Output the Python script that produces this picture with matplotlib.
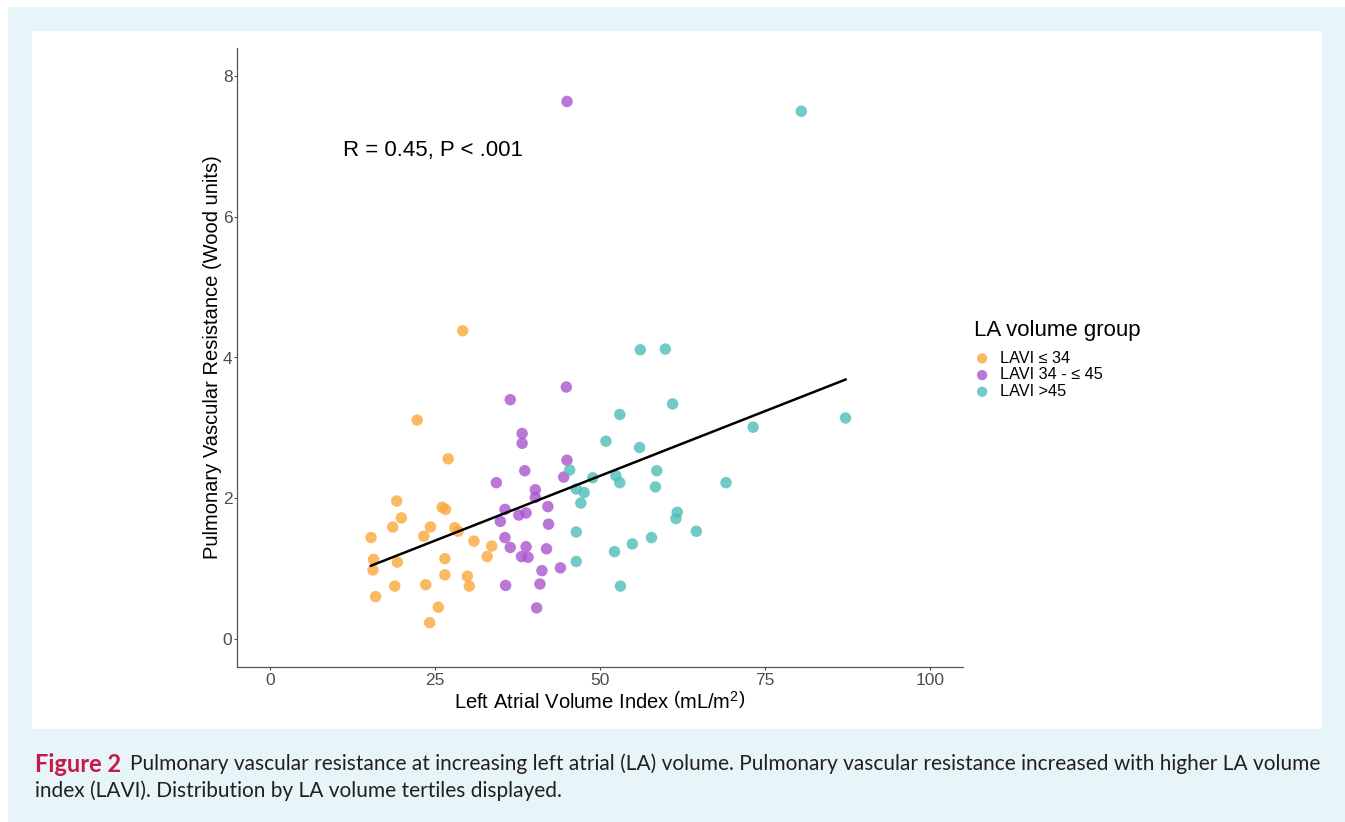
import numpy as np
import matplotlib
matplotlib.use("Agg")
import matplotlib.pyplot as plt
from matplotlib.patches import Rectangle

plt.rcParams['font.family'] = ['Liberation Sans', 'DejaVu Sans']
plt.rcParams['mathtext.fontset'] = 'custom'
plt.rcParams['mathtext.rm'] = 'Liberation Sans'
plt.rcParams['mathtext.it'] = 'Liberation Sans:italic'

# ---- data ----
groups = ["LAVI \u2264 34", "LAVI 34 - \u2264 45", "LAVI >45"]
colors = ["#FBA83A", "#A955CE", "#4FBDB8"]

lavi_low = [29.2, 22.3, 27.0, 19.2, 19.9, 18.6, 15.3, 26.1, 26.6, 24.3, 23.3, 28.0, 28.5, 30.9,
            33.6, 32.9, 15.7, 19.3, 26.5, 15.6, 26.5, 29.9, 18.9, 23.6, 30.2, 16.0, 25.5, 24.2]
pvr_low = [4.38, 3.11, 2.56, 1.96, 1.72, 1.59, 1.44, 1.87, 1.84, 1.59, 1.46, 1.58, 1.53, 1.39,
           1.32, 1.17, 1.13, 1.09, 1.14, 0.98, 0.91, 0.89, 0.75, 0.77, 0.75, 0.60, 0.45, 0.23]

lavi_mid = [45.0, 44.9, 36.4, 38.2, 38.2, 45.0, 38.6, 44.5, 34.3, 40.2, 40.2, 35.6, 42.1, 37.7,
            38.8, 34.9, 42.2, 35.6, 36.4, 38.8, 41.9, 38.1, 39.1, 41.2, 44.0, 40.9, 35.7, 40.4]
pvr_mid = [7.64, 3.58, 3.40, 2.92, 2.78, 2.54, 2.39, 2.30, 2.22, 2.12, 2.01, 1.84, 1.88, 1.76,
           1.79, 1.67, 1.63, 1.44, 1.30, 1.31, 1.28, 1.17, 1.16, 0.97, 1.01, 0.78, 0.76, 0.44]

lavi_high = [45.4, 48.9, 46.4, 47.6, 47.1, 46.4, 46.4, 56.1, 59.9, 61.0, 53.0, 87.2, 73.2, 50.9,
             56.0, 58.6, 52.4, 53.0, 58.4, 69.1, 61.7, 61.5, 64.6, 57.8, 54.9, 52.2, 53.1, 80.5]
pvr_high = [2.40, 2.29, 2.13, 2.08, 1.93, 1.52, 1.10, 4.11, 4.12, 3.34, 3.19, 3.14, 3.01, 2.81,
            2.72, 2.39, 2.32, 2.22, 2.16, 2.22, 1.80, 1.71, 1.53, 1.44, 1.35, 1.24, 0.75, 7.50]

x_ticks = [0, 25, 50, 75, 100]
y_ticks = [0, 2, 4, 6, 8]
stat_text = "R = 0.45, P < .001"
caption_head = "Figure 2"
caption_line1 = "Pulmonary vascular resistance at increasing left atrial (LA) volume. Pulmonary vascular resistance increased with higher LA volume"
caption_line2 = "index (LAVI). Distribution by LA volume tertiles displayed."

# ---- figure ----
W, H = 1345, 822
fig = plt.figure(figsize=(W / 100, H / 100), dpi=100)
fig.patch.set_facecolor("white")

def fx(px):
    return px / W

def fy(py):
    return 1 - py / H

bg = Rectangle((fx(8), 0), 1 - fx(8), fy(7), transform=fig.transFigure,
               facecolor="#E8F5F8", edgecolor="none", zorder=-10)
fig.patches.append(bg)
panel = Rectangle((fx(32), fy(729)), fx(1322) - fx(32), fy(31) - fy(729), transform=fig.transFigure,
                  facecolor="white", edgecolor="none", zorder=-9)
fig.patches.append(panel)

ax = fig.add_axes([fx(237), fy(667), fx(963) - fx(237), fy(48) - fy(667)])
ax.set_facecolor("none")

for xs, ys, c, lab in zip([lavi_low, lavi_mid, lavi_high], [pvr_low, pvr_mid, pvr_high], colors, groups):
    ax.scatter(xs, ys, s=68, color=c, alpha=0.8, edgecolors="none", label=lab, zorder=3)

all_x = np.array(lavi_low + lavi_mid + lavi_high)
all_y = np.array(pvr_low + pvr_mid + pvr_high)
slope, intercept = np.polyfit(all_x, all_y, 1)
xl = np.array([all_x.min(), all_x.max()])
ax.plot(xl, slope * xl + intercept, color="black", lw=1.8, zorder=4)

ax.set_xlim(-5, 105)
ax.set_ylim(-0.4, 8.4)
ax.set_xticks(x_ticks)
ax.set_yticks(y_ticks)
ax.tick_params(axis="both", colors="#4D4D4D", labelsize=12.5, length=2.5, width=0.8,
               labelcolor="#4D4D4D")
ax.tick_params(axis="x", pad=2)
ax.tick_params(axis="y", pad=0.8)
for s in ["top", "right"]:
    ax.spines[s].set_visible(False)
for s in ["left", "bottom"]:
    ax.spines[s].set_color("#555555")
    ax.spines[s].set_linewidth(0.9)

ax.set_xlabel(r"Left Atrial Volume Index $\left(\mathrm{mL/m^2}\right)$", fontsize=14.5,
              color="black", labelpad=2)
ax.set_ylabel("Pulmonary Vascular Resistance (Wood units)", fontsize=14.5, color="black", labelpad=0.5)

ax.text(11.0, 6.94, stat_text, fontsize=16, va="center", ha="left", color="black")

leg = ax.legend(loc="upper left", bbox_to_anchor=(fx(974), fy(320)), bbox_transform=fig.transFigure,
                frameon=False, title="LA volume group", title_fontsize=16, fontsize=11.7,
                labelspacing=0.1, handletextpad=0.6, handlelength=1.0, markerscale=0.9,
                borderaxespad=0, borderpad=0)
leg._legend_box.align = "left"
leg._legend_box.sep = 7
for h in leg.legend_handles:
    h.set_alpha(0.8)

cap_font = ['Lato', 'DejaVu Sans']
t = fig.text(fx(35), fy(764), caption_head, fontsize=17, fontweight="bold", color="#C8174B",
             family=cap_font, va="center", ha="left")
fig.canvas.draw()
bb = t.get_window_extent()
fig.text(bb.x1 / W + fx(9), fy(764), caption_line1, fontsize=15.0, color="#231F20",
         family=cap_font, va="center", ha="left")
fig.text(fx(35), fy(791), caption_line2, fontsize=15.0, color="#231F20",
         family=cap_font, va="center", ha="left")

fig.savefig("out.png", dpi=100, facecolor=fig.get_facecolor())
